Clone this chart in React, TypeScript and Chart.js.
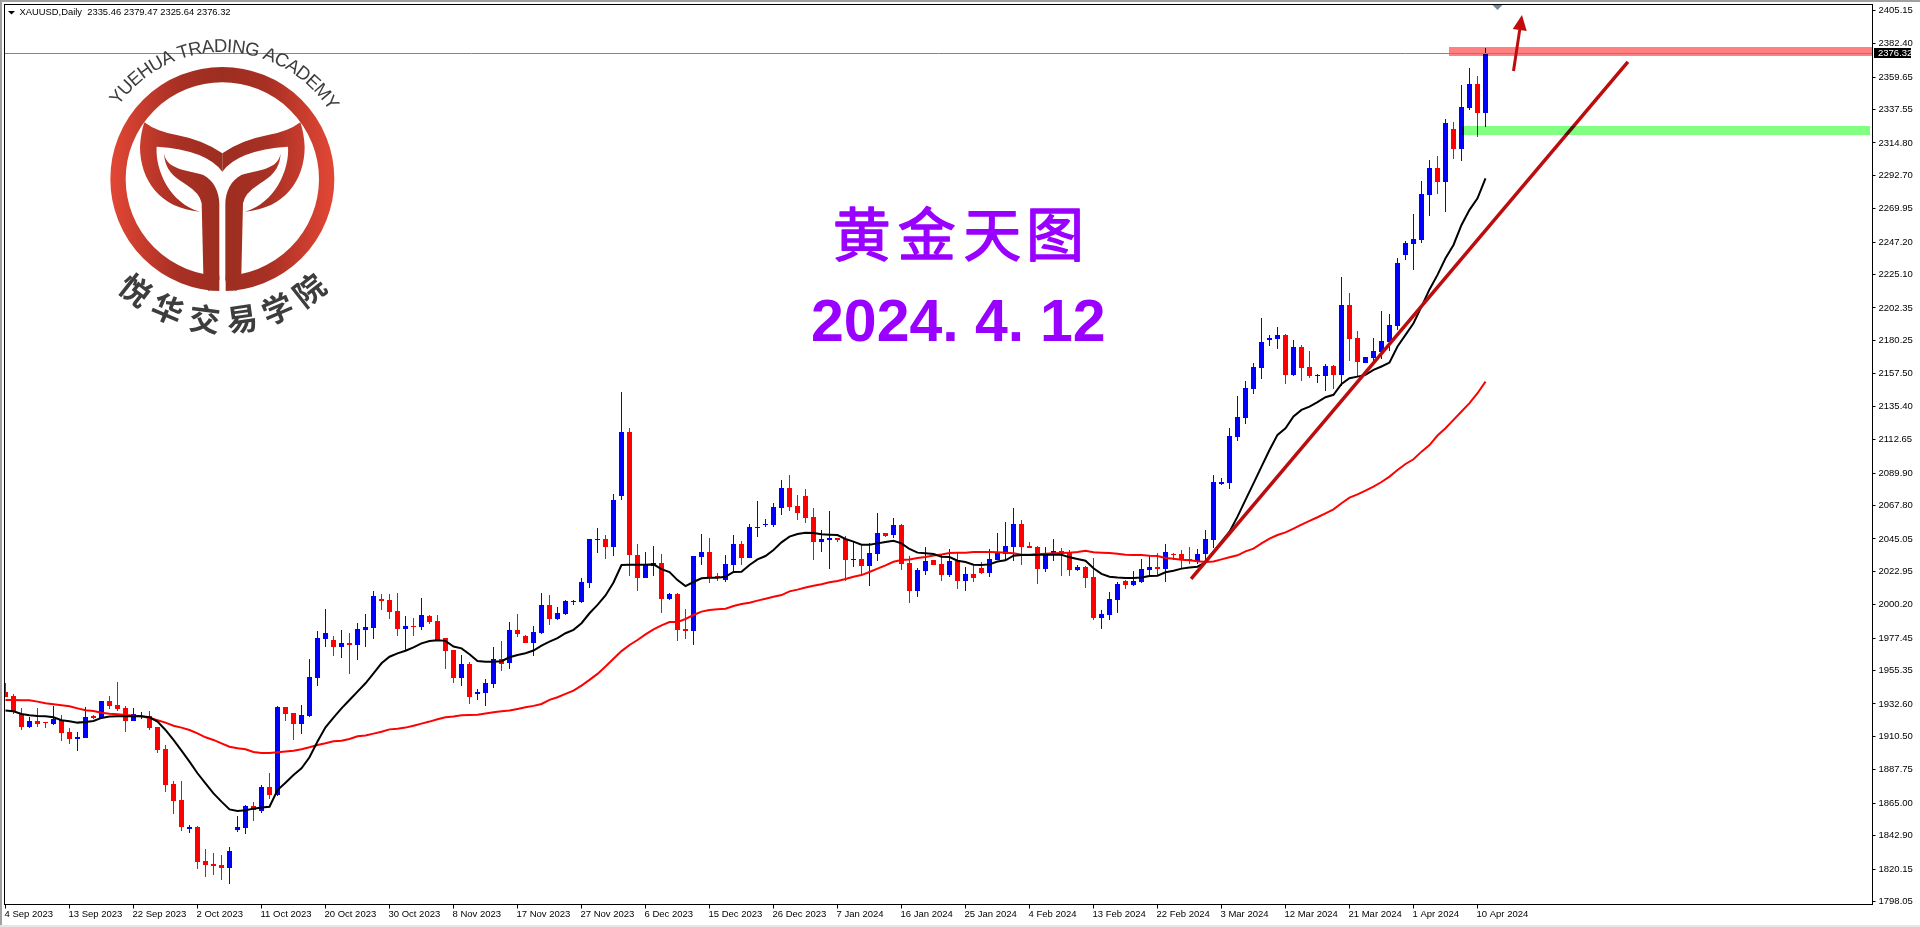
import React, { useEffect, useRef } from "react";
import { Chart, registerables } from "chart.js";

Chart.register(...registerables);

const xLabels = ["4 Sep 2023","13 Sep 2023","22 Sep 2023","2 Oct 2023","11 Oct 2023","20 Oct 2023","30 Oct 2023","8 Nov 2023","17 Nov 2023","27 Nov 2023","6 Dec 2023","15 Dec 2023","26 Dec 2023","7 Jan 2024","16 Jan 2024","25 Jan 2024","4 Feb 2024","13 Feb 2024","22 Feb 2024","3 Mar 2024","12 Mar 2024","21 Mar 2024","1 Apr 2024","10 Apr 2024"];
const yTicks = [2405.15,2382.40,2359.65,2337.55,2314.80,2292.70,2269.95,2247.20,2225.10,2202.35,2180.25,2157.50,2135.40,2112.65,2089.90,2067.80,2045.05,2022.95,2000.20,1977.45,1955.35,1932.60,1910.50,1887.75,1865.00,1842.90,1820.15,1798.05];

const opens = [1941.0,1938.0,1925.8,1916.9,1921.0,1920.6,1919.0,1921.7,1913.3,1909.0,
1909.7,1924.4,1923.3,1934.6,1931.9,1929.6,1921.0,1923.5,1924.4,1916.9,
1901.9,1878.1,1867.2,1847.4,1848.8,1825.6,1823.6,1822.9,1820.9,1846.8,
1848.1,1863.1,1859.7,1876.0,1870.6,1930.6,1926.5,1919.0,1924.4,1950.4,
1976.9,1976.2,1971.5,1974.2,1972.8,1983.1,1984.4,2004.2,2003.5,1996.0,
1983.7,1985.8,1985.1,1992.6,1989.2,1977.6,1969.4,1950.4,1959.9,1939.5,
1940.1,1946.3,1963.3,1960.6,1983.1,1979.0,1974.2,1981.0,2000.1,1990.6,
1994.0,2002.1,2002.1,2015.1,2044.4,2045.0,2039.5,2074.3,2117.9,2034.1,
2018.4,2026.6,2028.6,2004.1,2007.5,1983.7,1982.3,2032.7,2036.1,2019.8,
2017.0,2027.3,2041.6,2032.0,2052.5,2054.3,2054.3,2066.1,2079.7,2067.5,
2074.3,2060.0,2042.9,2044.3,2045.7,2045.0,2030.7,2031.3,2026.6,2034.8,
2049.1,2047.7,2054.5,2028.6,2009.5,2023.2,2030.7,2027.9,2020.4,2030.0,
2016.4,2021.2,2025.2,2021.8,2030.7,2034.8,2039.5,2055.2,2040.2,2039.5,
2024.6,2034.8,2036.8,2035.5,2023.9,2025.9,2019.1,1991.2,1993.2,2003.4,
2016.4,2013.7,2015.7,2023.9,2025.9,2024.6,2034.8,2034.8,2031.1,2029.3,
2034.8,2044.3,2082.5,2083.2,2114.5,2127.5,2147.2,2161.5,2180.6,2181.3,
2184.0,2156.8,2175.9,2162.2,2156.1,2156.1,2162.9,2156.8,2204.5,2182.0,
2165.0,2168.4,2172.4,2179.3,2190.2,2238.5,2246.0,2248.7,2279.4,2297.8,
2288.2,2324.4,2310.7,2338.7,2355.0,2335.46];

const closes = [1937.1,1927.4,1917.2,1921.0,1919.0,1919.4,1922.4,1913.1,1909.0,1909.9,
1923.7,1923.1,1934.6,1931.2,1929.2,1921.0,1925.6,1924.6,1916.5,1901.3,
1877.4,1866.5,1849.0,1848.8,1825.0,1822.9,1822.2,1821.1,1832.4,1848.8,
1863.1,1860.4,1876.0,1870.6,1930.6,1925.8,1919.0,1925.1,1951.0,1977.6,
1981.0,1971.5,1974.2,1972.8,1983.7,1985.1,2006.2,2002.8,1995.3,1983.7,
1985.8,1985.1,1993.3,1988.5,1976.2,1968.8,1950.4,1959.9,1937.4,1940.8,
1946.9,1963.3,1959.9,1983.1,1980.3,1974.2,1981.7,2000.1,1990.6,1994.6,
2002.8,2002.8,2015.8,2045.1,2045.1,2039.5,2071.5,2117.9,2034.1,2018.4,
2027.9,2028.6,2004.1,2007.5,1983.0,1982.3,2033.4,2036.1,2018.4,2018.4,
2027.9,2041.6,2032.0,2053.1,2053.1,2055.2,2066.8,2079.7,2066.8,2062.7,
2059.3,2042.9,2045.0,2045.7,2044.3,2030.7,2031.3,2026.6,2035.4,2049.1,
2047.0,2054.5,2027.9,2009.5,2023.9,2030.0,2027.3,2020.4,2030.0,2016.4,
2021.2,2018.4,2021.8,2031.4,2035.5,2040.2,2055.2,2039.5,2038.9,2024.6,
2035.5,2036.8,2034.8,2023.9,2025.9,2018.4,1991.2,1993.9,2004.1,2014.3,
2013.7,2016.4,2024.6,2025.9,2024.6,2036.1,2033.9,2030.7,2029.8,2034.8,
2045.0,2083.8,2083.8,2115.2,2128.2,2147.9,2162.2,2179.3,2182.0,2184.0,
2156.8,2175.9,2161.5,2156.1,2156.8,2162.9,2156.8,2204.5,2181.3,2165.6,
2169.0,2173.1,2179.9,2190.8,2233.1,2246.7,2249.4,2280.1,2297.8,2288.2,
2328.4,2310.7,2339.3,2355.0,2335.3,2376.32];

const highs = [1947.1,1939.4,1929.6,1923.5,1929.6,1920.6,1931.5,1924.9,1916.0,1913.3,
1930.3,1925.1,1934.6,1938.0,1947.6,1931.2,1929.6,1927.1,1927.8,1916.9,
1904.4,1880.1,1880.1,1850.2,1849.5,1833.8,1831.1,1829.7,1835.2,1856.3,
1863.8,1865.8,1877.4,1885.6,1931.2,1930.6,1926.5,1931.9,1963.3,1982.4,
1997.4,1979.0,1983.1,1981.0,1987.8,1994.0,2009.6,2007.6,2007.6,2008.3,
1992.6,1991.2,2004.9,1993.3,1993.3,1977.6,1969.4,1966.0,1961.3,1942.9,
1949.7,1971.5,1975.6,1988.5,1994.0,1979.7,1985.8,2008.3,2006.9,1998.7,
2003.5,2003.5,2018.5,2045.1,2052.5,2047.7,2075.6,2145.1,2120.6,2041.6,
2036.1,2040.2,2034.8,2008.2,2008.2,1997.3,2033.4,2048.4,2045.7,2021.8,
2034.1,2047.7,2043.6,2055.2,2070.9,2058.6,2069.5,2085.2,2088.6,2075.0,
2079.0,2066.1,2051.1,2064.1,2045.7,2047.0,2042.9,2040.9,2042.2,2062.7,
2049.1,2059.3,2055.2,2033.4,2025.2,2039.5,2030.7,2034.1,2038.2,2036.1,
2025.9,2027.3,2029.1,2038.2,2049.1,2056.6,2066.1,2057.9,2043.0,2040.2,
2039.5,2045.0,2038.9,2037.5,2027.3,2026.6,2032.1,1996.6,2008.9,2015.7,
2017.1,2023.2,2031.4,2033.4,2035.5,2041.6,2035.5,2037.5,2039.5,2038.2,
2051.1,2088.6,2086.6,2120.6,2142.5,2152.7,2165.0,2195.6,2184.0,2189.5,
2184.7,2180.6,2177.2,2173.1,2157.5,2164.3,2163.6,2223.3,2212.6,2186.8,
2169.0,2182.0,2200.4,2198.3,2236.5,2248.0,2266.4,2288.9,2303.2,2306.0,
2331.2,2329.1,2354.3,2365.9,2360.5,2379.47];

const lows = [1937.1,1925.6,1914.9,1916.2,1917.2,1916.2,1918.3,1907.6,1905.6,1900.6,
1909.7,1922.4,1922.8,1929.2,1928.1,1913.5,1921.0,1922.2,1914.9,1899.4,
1872.6,1857.7,1846.1,1844.7,1820.2,1814.7,1816.1,1812.7,1810.0,1845.4,
1844.0,1852.9,1858.3,1867.9,1869.9,1921.0,1908.1,1912.2,1923.7,1944.9,
1971.5,1965.3,1964.0,1953.1,1962.6,1971.5,1976.9,1996.7,1990.6,1979.0,
1969.4,1979.0,1983.1,1987.1,1975.6,1956.5,1946.9,1944.9,1932.6,1935.4,
1931.3,1943.5,1955.1,1956.5,1978.3,1974.2,1965.3,1980.3,1986.5,1989.9,
1993.3,2000.1,2001.5,2011.7,2035.5,2031.3,2033.4,2071.5,2019.8,2009.5,
2018.4,2019.8,1994.6,2003.4,1975.5,1976.8,1972.8,2027.3,2015.0,2016.4,
2015.7,2021.8,2027.3,2032.0,2046.3,2053.1,2053.1,2061.3,2064.1,2057.9,
2055.9,2030.7,2036.1,2024.5,2042.9,2016.4,2025.9,2021.1,2013.0,2030.0,
2046.3,2045.7,2023.9,2001.4,2005.5,2020.4,2027.3,2016.4,2019.1,2010.9,
2009.6,2015.7,2021.2,2019.1,2030.7,2030.7,2030.0,2027.3,2038.9,2014.3,
2022.5,2030.0,2019.8,2019.8,2023.2,2011.6,1989.8,1983.7,1989.8,1994.6,
2010.9,2013.0,2015.0,2019.8,2019.8,2015.7,2030.7,2025.2,2028.0,2028.0,
2029.3,2038.9,2081.8,2079.1,2111.5,2123.4,2143.8,2154.1,2176.5,2174.5,
2150.6,2156.1,2152.7,2154.7,2151.3,2145.9,2147.2,2149.3,2166.3,2156.1,
2165.0,2165.6,2167.7,2173.1,2187.4,2235.1,2228.3,2246.7,2265.1,2280.1,
2267.8,2303.9,2302.6,2337.3,2318.9,2325.64];

const maBlack = [1928.1,1927.6,1925.8,1924.9,1924.4,1924.2,1923.5,1921.5,1920.8,1919.9,
1920.3,1921.0,1923.1,1924.0,1924.2,1924.2,1924.2,1924.2,1923.5,1920.6,
1914.9,1908.1,1900.8,1893.3,1885.4,1878.5,1871.7,1866.1,1860.8,1859.7,
1860.2,1861.3,1862.0,1862.6,1874.0,1879.0,1884.2,1888.8,1896.3,1907.0,
1916.7,1923.3,1929.6,1935.3,1941.0,1946.7,1953.5,1960.3,1964.8,1967.1,
1968.9,1971.2,1973.9,1975.5,1976.0,1975.6,1971.7,1970.5,1966.5,1961.9,
1961.3,1961.3,1961.7,1964.4,1966.0,1967.2,1969.0,1972.4,1975.1,1977.4,
1980.8,1983.1,1987.6,1994.4,2000.1,2006.5,2015.4,2027.3,2027.5,2027.5,
2027.5,2027.7,2024.5,2022.5,2017.0,2012.9,2015.7,2018.2,2018.6,2018.6,
2019.3,2022.5,2022.7,2027.3,2031.1,2033.4,2037.5,2042.7,2046.6,2048.4,
2049.3,2049.1,2048.2,2047.9,2047.7,2045.0,2043.2,2041.1,2041.1,2042.0,
2042.9,2043.8,2042.0,2038.2,2035.7,2035.2,2034.8,2032.9,2032.7,2030.2,
2029.3,2027.5,2027.3,2027.7,2029.6,2030.5,2033.6,2034.1,2034.1,2034.3,
2034.3,2034.3,2034.3,2032.5,2031.4,2030.2,2025.0,2021.2,2019.3,2018.7,
2018.4,2018.4,2018.7,2019.8,2020.0,2022.3,2023.4,2024.8,2025.5,2026.1,
2029.1,2036.4,2043.2,2050.0,2060.2,2071.6,2082.9,2094.3,2105.6,2115.9,
2120.4,2128.4,2132.9,2135.2,2138.2,2141.6,2143.2,2150.6,2154.5,2155.6,
2156.8,2160.2,2162.5,2165.2,2176.1,2184.0,2192.0,2203.3,2215.0,2224.9,
2236.2,2245.3,2258.9,2269.2,2277.1,2290.7];

const maRed = [1935.3,1935.3,1935.1,1935.1,1934.2,1933.1,1932.4,1931.7,1931.0,1929.6,
1928.3,1927.8,1926.7,1926.0,1925.6,1925.1,1924.6,1924.2,1923.1,1921.5,
1919.9,1917.8,1916.5,1914.9,1912.6,1909.9,1908.1,1905.8,1903.5,1902.4,
1901.7,1899.9,1899.2,1899.2,1899.7,1900.3,1900.8,1901.7,1903.1,1904.7,
1905.8,1907.2,1907.6,1908.8,1910.6,1911.2,1912.4,1913.7,1915.3,1915.8,
1916.5,1917.8,1919.2,1920.6,1922.2,1923.6,1924.0,1924.9,1925.1,1925.2,
1926.1,1927.0,1927.6,1928.1,1929.2,1930.4,1931.3,1932.6,1935.4,1937.2,
1939.5,1941.7,1945.1,1949.0,1953.1,1958.1,1963.4,1968.6,1972.8,1976.2,
1980.0,1983.4,1986.2,1988.4,1988.4,1990.5,1993.2,1995.5,1996.6,1997.1,
1997.5,1999.3,2000.7,2001.6,2003.0,2004.3,2005.7,2006.8,2009.3,2010.5,
2012.0,2013.2,2014.1,2015.5,2016.4,2017.7,2019.3,2020.4,2022.5,2024.8,
2027.0,2029.5,2030.7,2031.1,2032.0,2032.7,2033.8,2034.5,2035.4,2035.7,
2035.7,2036.1,2036.1,2036.1,2035.9,2035.7,2035.2,2034.3,2034.3,2034.6,
2035.0,2035.2,2035.4,2035.7,2036.1,2037.0,2035.9,2035.7,2035.5,2035.0,
2034.3,2034.1,2034.1,2033.6,2033.4,2032.0,2031.6,2030.9,2030.5,2029.8,
2029.3,2029.6,2031.1,2032.5,2033.9,2036.6,2038.4,2042.0,2045.2,2047.7,
2049.5,2052.0,2054.8,2057.3,2059.8,2062.5,2065.2,2069.3,2073.2,2075.4,
2077.9,2080.7,2083.8,2087.5,2092.0,2096.1,2099.3,2104.5,2109.0,2115.5,
2120.4,2126.1,2131.8,2137.5,2144.3,2152.2];

const trendLine = [{ x: 148.2, y: 2017.8 }, { x: 202.8, y: 2370.0 }];
const lastPrice = 2376.32;
const resistanceZone = { fromX: 180.4, toX: 233.3, top: 2380.2, bottom: 2374.1 };
const supportZone = { fromX: 182.06, toX: 233.06, top: 2326.4, bottom: 2320.2 };
const arrow = { fromX: 188.5, fromY: 2363.8, toX: 189.56, toY: 2402.0, headBaseY: 2391.8 };
const headerText = "XAUUSD,Daily  2335.46 2379.47 2325.64 2376.32";
const titleChars = ["黄", "金", "天", "图"];
const dateParts = ["2024.", "4.", "12"];

const CJK = '"Noto Sans CJK SC"';
const LAT = '"Liberation Sans"';

function drawLogo(ctx: CanvasRenderingContext2D) {
  ctx.save();
  ctx.scale(1 / 3, 1 / 3);
  const g = ctx.createLinearGradient(330, 0, 1004, 0);
  g.addColorStop(0, "#e34735");
  g.addColorStop(0.3, "#a83024");
  g.addColorStop(0.5, "#9c2e20");
  g.addColorStop(0.7, "#a83024");
  g.addColorStop(1, "#e34735");
  ctx.strokeStyle = g;
  ctx.fillStyle = g;
  ctx.lineWidth = 46;
  ctx.beginPath();
  ctx.arc(667, 537, 313, 0, Math.PI * 2);
  ctx.stroke();
  ctx.fillStyle = "#ffffff";
  ctx.fillRect(658, 815, 19, 70);
  ctx.fillStyle = g;
  const half = () => {
    ctx.beginPath();
    ctx.moveTo(433, 367);
    ctx.quadraticCurveTo(470, 395, 530, 405);
    ctx.quadraticCurveTo(610, 420, 667, 460);
    ctx.lineTo(667, 515);
    ctx.quadraticCurveTo(620, 450, 470, 440);
    ctx.bezierCurveTo(465, 510, 510, 610, 600, 635);
    ctx.bezierCurveTo(480, 625, 420, 540, 420, 440);
    ctx.quadraticCurveTo(422, 400, 433, 367);
    ctx.closePath();
    ctx.fill();
    ctx.beginPath();
    ctx.moveTo(492, 460);
    ctx.bezierCurveTo(500, 510, 560, 510, 610, 525);
    ctx.bezierCurveTo(640, 540, 658, 575, 658, 612);
    ctx.lineTo(658, 840);
    ctx.quadraticCurveTo(650, 865, 625, 873);
    ctx.lineTo(610, 822);
    ctx.lineTo(605, 610);
    ctx.quadraticCurveTo(600, 580, 560, 555);
    ctx.bezierCurveTo(520, 530, 495, 510, 492, 460);
    ctx.closePath();
    ctx.fill();
  };
  half();
  ctx.save();
  ctx.translate(1334, 0);
  ctx.scale(-1, 1);
  half();
  ctx.restore();
  ctx.restore();

  const cx = 222.3, cy = 179;
  ctx.save();
  ctx.fillStyle = "#3d3d3d";
  ctx.textAlign = "center";
  ctx.textBaseline = "alphabetic";
  ctx.font = `18.6px ${LAT}`;
  const word = "YUEHUA TRADING ACADEMY";
  const widths = [...word].map((c) => ctx.measureText(c).width);
  const total = widths.reduce((a, b) => a + b, 0);
  const span = 1.96;
  const k = span / total;
  let a = -span / 2 + 0.025;
  [...word].forEach((c, i) => {
    const m = a + (widths[i] * k) / 2;
    ctx.save();
    ctx.translate(cx, cy);
    ctx.rotate(m);
    ctx.fillText(c, 0, -127);
    ctx.restore();
    a += widths[i] * k;
  });
  ctx.font = `bold 31px ${CJK}`;
  ctx.textBaseline = "middle";
  const cn = ["悦", "华", "交", "易", "学", "院"];
  const angles = [38, 22.8, 7.2, -8, -23, -38];
  cn.forEach((c, i) => {
    const t = (angles[i] * Math.PI) / 180;
    ctx.save();
    ctx.translate(cx - 141 * Math.sin(t), cy + 141 * Math.cos(t));
    ctx.rotate(t);
    ctx.fillText(c, 0, 0);
    ctx.restore();
  });
  ctx.restore();
}

const decor = {
  id: "decor",
  afterDatasetsUpdate(chart: any) {
    chart.data.datasets.forEach((d: any, idx: number) => {
      if (d.type !== "bar") return;
      chart.getDatasetMeta(idx).data.forEach((el: any) => {
        const top = Math.round(Math.min(el.y, el.base));
        let bot = Math.round(Math.max(el.y, el.base));
        if (bot <= top) bot = top + 1;
        el.y = top;
        el.base = bot;
        el.height = bot - top;
      });
    });
  },
  beforeDraw(chart: any) {
    const { ctx, width, height } = chart;
    ctx.save();
    ctx.fillStyle = "#ffffff";
    ctx.fillRect(0, 0, width, height);
    ctx.fillStyle = "#a0a0a0";
    ctx.fillRect(0, 0, width, 2);
    ctx.fillRect(0, 0, 2, height);
    ctx.fillStyle = "#e6e6e6";
    ctx.fillRect(0, 925, width, 2);
    ctx.restore();
  },
  afterDatasetsDraw(chart: any) {
    const { ctx, chartArea: ca, scales } = chart;
    const X = scales.x, Y = scales.y;
    ctx.save();
    ctx.beginPath();
    ctx.rect(ca.left, ca.top, ca.right - ca.left, ca.bottom - ca.top);
    ctx.clip();
    ctx.globalCompositeOperation = "multiply";
    [[resistanceZone, "#ff8080"], [supportZone, "#80ff80"]].forEach(([z, c]: any) => {
      ctx.fillStyle = c;
      const t = Math.round(Y.getPixelForValue(z.top));
      const b = Math.round(Y.getPixelForValue(z.bottom));
      const l = Math.round(X.getPixelForValue(z.fromX));
      const r = Math.round(X.getPixelForValue(z.toX));
      ctx.fillRect(l, t, r - l, b - t);
    });
    ctx.globalCompositeOperation = "source-over";
    const py = Math.round(Y.getPixelForValue(lastPrice)) + 0.5;
    ctx.strokeStyle = "#778899";
    ctx.lineWidth = 1;
    ctx.beginPath();
    ctx.moveTo(ca.left, py);
    ctx.lineTo(ca.right, py);
    ctx.stroke();
    const ax0 = X.getPixelForValue(arrow.fromX), ay0 = Y.getPixelForValue(arrow.fromY);
    const ax1 = X.getPixelForValue(arrow.toX), ay1 = Y.getPixelForValue(arrow.toY);
    const ab = Y.getPixelForValue(arrow.headBaseY);
    const t = (ab - ay0) / (ay1 - ay0);
    const bx = ax0 + (ax1 - ax0) * t;
    ctx.strokeStyle = "#c00c0c";
    ctx.fillStyle = "#c00c0c";
    ctx.lineWidth = 3;
    ctx.beginPath();
    ctx.moveTo(ax0, ay0);
    ctx.lineTo(bx, ab);
    ctx.stroke();
    ctx.beginPath();
    ctx.moveTo(ax1, ay1);
    ctx.lineTo(bx - 7, ab - 1);
    ctx.lineTo(bx + 7, ab + 1);
    ctx.closePath();
    ctx.fill();
    ctx.fillStyle = "#778899";
    ctx.beginPath();
    ctx.moveTo(1492.5, 5);
    ctx.lineTo(1502.5, 5);
    ctx.lineTo(1497.5, 10);
    ctx.closePath();
    ctx.fill();
    ctx.restore();

    drawLogo(ctx);

    ctx.save();
    ctx.fillStyle = "#000000";
    ctx.beginPath();
    ctx.moveTo(8, 11);
    ctx.lineTo(15, 11);
    ctx.lineTo(11.5, 14.5);
    ctx.closePath();
    ctx.fill();
    ctx.font = `9.4px ${LAT}`;
    ctx.textAlign = "left";
    ctx.textBaseline = "middle";
    ctx.fillText(headerText, 19.5, 12.5);

    ctx.fillStyle = "#9900ff";
    ctx.strokeStyle = "#9900ff";
    ctx.lineWidth = 1.4;
    ctx.lineJoin = "round";
    ctx.textAlign = "center";
    ctx.textBaseline = "middle";
    ctx.font = `58px ${CJK}`;
    [861.7, 926.7, 992.3, 1055].forEach((x, i) => {
      ctx.fillText(titleChars[i], x, 234);
      ctx.strokeText(titleChars[i], x, 234);
    });
    ctx.textAlign = "left";
    ctx.textBaseline = "alphabetic";
    ctx.font = `bold 59px ${LAT}`;
    [811, 975, 1040].forEach((x, i) => ctx.fillText(dateParts[i], x, 341));
    ctx.restore();
  },
  afterDraw(chart: any) {
    const { ctx, chartArea: ca, scales } = chart;
    const py = Math.round(scales.y.getPixelForValue(lastPrice));
    ctx.save();
    ctx.strokeStyle = "#000000";
    ctx.lineWidth = 1;
    ctx.strokeRect(ca.left, ca.top, ca.right - ca.left, ca.bottom - ca.top);
    ctx.fillStyle = "#000000";
    ctx.fillRect(1874, py - 5, 37, 10);
    ctx.fillStyle = "#ffffff";
    ctx.font = `9.5px ${LAT}`;
    ctx.textAlign = "left";
    ctx.textBaseline = "middle";
    ctx.fillText(lastPrice.toFixed(2), 1878, py);
    ctx.restore();
  },
};

export default function App() {
  const ref = useRef<HTMLCanvasElement | null>(null);
  useEffect(() => {
    const idx = opens.map((_, i) => i);
    const colors = idx.map((i) => (closes[i] >= opens[i] ? "#0000ff" : "#ff0000"));
    const chart = new Chart(ref.current as HTMLCanvasElement, {
      type: "bar",
      data: {
        datasets: [
          {
            type: "bar",
            data: idx.map((i) => ({ x: i, y: [lows[i], highs[i]] })),
            backgroundColor: colors,
            barThickness: 1,
            grouped: false,
            inflateAmount: 0,
            borderWidth: 0,
            order: 6,
          },
          {
            type: "bar",
            data: idx.map((i) => ({ x: i, y: [opens[i], closes[i]] })),
            backgroundColor: colors,
            barThickness: 5,
            grouped: false,
            inflateAmount: 0,
            borderWidth: 0,
            order: 5,
          },
          {
            type: "line",
            data: idx.map((i) => ({ x: i, y: maRed[i] })),
            borderColor: "#ff0000",
            borderWidth: 2,
            pointRadius: 0,
            tension: 0,
            order: 4,
          },
          {
            type: "line",
            data: idx.map((i) => ({ x: i, y: maBlack[i] })),
            borderColor: "#000000",
            borderWidth: 2,
            pointRadius: 0,
            tension: 0,
            order: 3,
          },
          {
            type: "line",
            data: trendLine,
            borderColor: "#bb0d0d",
            borderWidth: 3.5,
            pointRadius: 0,
            tension: 0,
            order: 2,
          },
        ] as any,
      },
      options: {
        responsive: false,
        animation: false,
        devicePixelRatio: 1,
        events: [],
        layout: { padding: { left: 4.5, top: 4.5, right: 0, bottom: 0 } },
        plugins: { legend: { display: false }, tooltip: { enabled: false }, title: { display: false } },
        scales: {
          x: {
            type: "linear",
            offset: false,
            min: -0.125,
            max: 233.375,
            afterBuildTicks: (axis: any) => {
              axis.ticks = xLabels.map((_, k) => ({ value: k * 8 }));
            },
            afterFit: (axis: any) => {
              axis.height = 22.5;
              axis.paddingLeft = 0;
              axis.paddingRight = 0;
            },
            grid: { drawOnChartArea: false, drawTicks: true, tickLength: 4, color: "#000000", offset: false },
            border: { color: "#000000" },
            ticks: {
              autoSkip: false,
              maxRotation: 0,
              minRotation: 0,
              align: "start",
              padding: 0,
              labelOffset: -1,
              color: "#000000",
              font: { family: "Liberation Sans", size: 9.5 },
              callback: (v: any) => xLabels[Math.round(Number(v) / 8)],
            },
          },
          y: {
            type: "linear",
            position: "right",
            min: 1796.0,
            max: 2409.1,
            afterBuildTicks: (axis: any) => {
              axis.ticks = yTicks.map((value) => ({ value }));
            },
            afterFit: (axis: any) => {
              axis.width = 47.5;
              axis.paddingTop = 0;
              axis.paddingBottom = 0;
            },
            grid: { drawOnChartArea: false, drawTicks: true, tickLength: 3, color: "#000000" },
            border: { color: "#000000" },
            ticks: {
              autoSkip: false,
              padding: 3,
              color: "#000000",
              font: { family: "Liberation Sans", size: 9.5 },
              callback: (v: any) => Number(v).toFixed(2),
            },
          },
        },
      } as any,
      plugins: [decor],
    });
    return () => chart.destroy();
  }, []);
  return (
    <div style={{ position: "fixed", left: 0, top: 0, width: 1920, height: 927, background: "#fff" }}>
      <canvas ref={ref} width={1920} height={927} style={{ display: "block" }} />
    </div>
  );
}
